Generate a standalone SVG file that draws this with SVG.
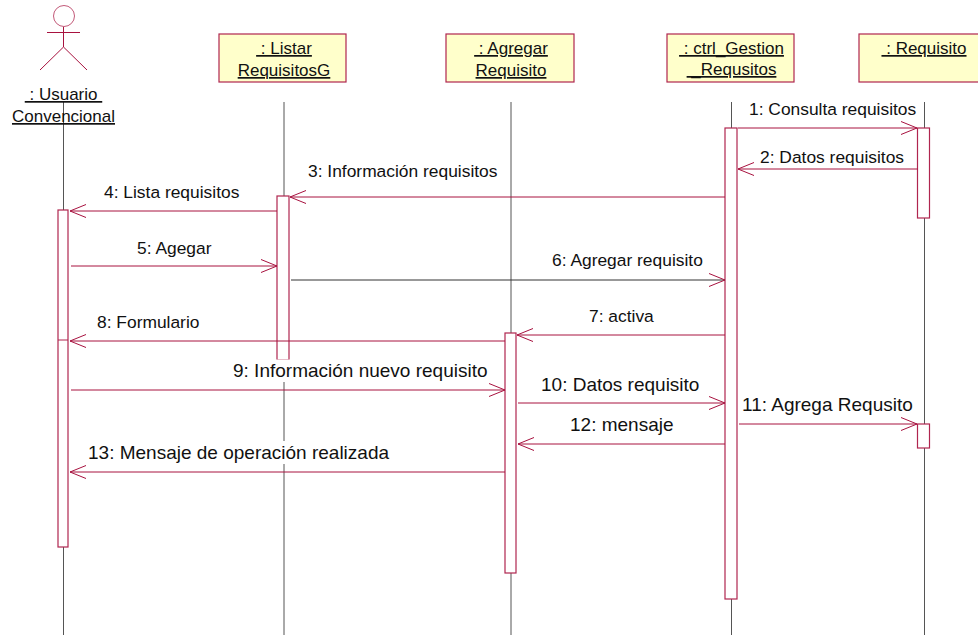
<svg xmlns="http://www.w3.org/2000/svg" width="978" height="635" viewBox="0 0 978 635">
<defs>
<marker id="open" markerUnits="userSpaceOnUse" markerWidth="20" markerHeight="16" refX="17" refY="8" orient="auto"><path d="M1 1.500L17 8L1 14.500" fill="none" stroke="#a8123f" stroke-width="1"/></marker>
</defs>
<style>
.life{stroke:#555;stroke-width:1;fill:none}
.box{fill:#ffffcb;stroke:#b0254f;stroke-width:1.2}
.act{fill:#fff;stroke:#b0254f;stroke-width:1.2}
.msg{stroke:#a8123f;stroke-width:1;fill:none;marker-end:url(#open)}
.actor{stroke:#a8123f;stroke-width:1;fill:none}
text{font-family:"Liberation Sans",Arial,sans-serif;font-size:19px;fill:#111}
.nm{font-size:17px;text-anchor:middle;text-decoration:underline}
.lb{font-size:17.400px}
.bg{fill:#fff}
</style>
<g id="lifelines">
<path class="life" d="M63.500 102V635M284 102V635M511 102V635M731.500 102V635M924.500 102V635"/>
</g>
<g id="actor-usuario">
<circle class="actor" cx="64" cy="16" r="10.500" stroke-opacity=".7"/>
<path class="actor" d="M47 32.500H80M63.500 27V47M40 70L63.500 47L87 70"/>
<text class="nm" x="63.500" y="100">&#160;: Usuario&#160;</text>
<text class="nm" x="63.500" y="122">Convencional</text>
</g>
<g id="node-listar">
<rect class="box" x="219" y="34" width="127" height="48"/>
<text class="nm" x="284" y="54">&#160;: Listar</text>
<text class="nm" x="284" y="76">RequisitosG</text>
</g>
<g id="node-agregar">
<rect class="box" x="446" y="34" width="128" height="48"/>
<text class="nm" x="511" y="54">&#160;: Agregar</text>
<text class="nm" x="511" y="76">Requisito</text>
</g>
<g id="node-ctrl">
<rect class="box" x="667" y="34" width="127" height="48"/>
<text class="nm" x="731.500" y="54">&#160;: ctrl_Gestion</text>
<text class="nm" x="731.500" y="75">&#160;_Requsitos</text>
</g>
<g id="node-requisito">
<rect class="box" x="859" y="34" width="125" height="48"/>
<text class="nm" x="924" y="54">&#160;: Requisito</text>
</g>
<g id="activations">
<rect class="act" x="58" y="210" width="10" height="337"/>
<rect class="act" x="277" y="196" width="12" height="164"/>
<rect class="act" x="505" y="333" width="11" height="240"/>
<rect class="act" x="725" y="128" width="12" height="471"/>
<rect class="act" x="917.500" y="128" width="12" height="90"/>
<rect class="act" x="917.500" y="424" width="12" height="24"/>
</g>
<g id="connectors">
<path class="msg" d="M738 128H917"/>
<path class="msg" d="M918 169H738"/>
<path class="msg" d="M725 197H290"/>
<path class="msg" d="M277 211H70"/>
<path class="msg" d="M71 266H277"/>
<path class="msg" d="M291 280H725" style="stroke:#333"/>
<path class="msg" d="M725 335H517"/>
<path class="msg" d="M505 341H70"/>
<path class="msg" d="M71 390H505"/>
<path class="msg" d="M518 403H725"/>
<path class="msg" d="M739 424H917"/>
<path class="msg" d="M725 444H518"/>
<path class="msg" d="M505 472H70"/>
<path d="M58 340H68" stroke="#b0254f" fill="none"/>
</g>
<g id="labels">
<text class="lb" x="749" y="115">1: Consulta requisitos</text>
<text class="lb" x="760" y="163">2: Datos requisitos</text>
<text class="lb" x="308" y="177">3: Información requisitos</text>
<text class="lb" x="104" y="198">4: Lista requisitos</text>
<text class="lb" x="137" y="254">5: Agegar</text>
<text class="lb" x="552" y="266">6: Agregar requisito</text>
<text class="lb" x="589" y="322">7: activa</text>
<text class="lb" x="97" y="328">8: Formulario</text>
<rect class="bg" x="231" y="359.500" width="258" height="22.500"/>
<text x="233" y="377">9: Información nuevo requisito</text>
<text x="541" y="391">10: Datos requisito</text>
<text x="742" y="411">11: Agrega Requsito</text>
<text x="570" y="431">12: mensaje</text>
<rect class="bg" x="86" y="441" width="304" height="23"/>
<text x="88" y="459">13: Mensaje de operación realizada</text>
</g>
</svg>
